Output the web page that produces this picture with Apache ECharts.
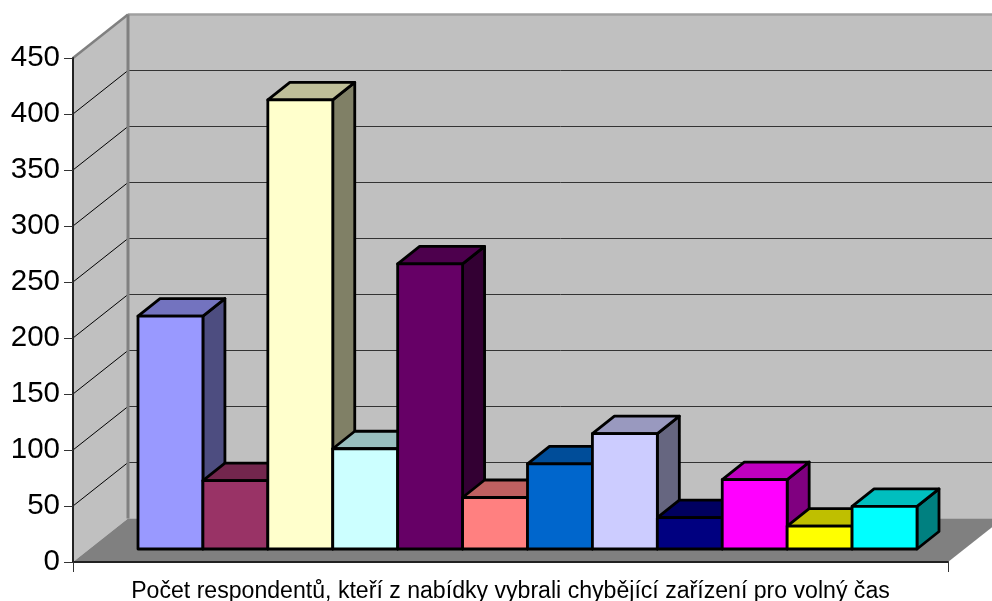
<!DOCTYPE html>
<html>
<head>
<meta charset="utf-8">
<style>html,body{margin:0;padding:0;background:#fff}#c{width:992px;height:601px}</style>
<script src="https://cdn.jsdelivr.net/npm/echarts@6/dist/echarts.min.js"></script>
</head>
<body>
<div id="c"></div>
<script>
const categories = ['Počet respondentů, kteří z nabídky vybrali chybějící zařízení pro volný čas'];
const values = [208, 61, 401, 89.5, 254.5, 46, 76, 103, 28, 62, 20.5, 38];
const colors = ['#9999FF','#993366','#FFFFCC','#CCFFFF','#660066','#FF8080','#0066CC','#CCCCFF','#000080','#FF00FF','#FFFF00','#00FFFF'];
const yTicks = [0,50,100,150,200,250,300,350,400,450];

const WALL_DX = 55, WALL_DY = -43.5;  // depth of the whole plot box
const BAR_OX = 17, BAR_OY = -13;      // where bars sit in depth
const BAR_DX = 22, BAR_DY = -17.5;    // bar depth
const CLUSTER = 779 / 875;            // share of the category band used by bars

function shade(hex, k) {
  const n = parseInt(hex.slice(1), 16);
  const c = [n >> 16 & 255, n >> 8 & 255, n & 255].map(v => Math.round(v * k));
  return 'rgb(' + c.join(',') + ')';
}
function poly(points, fill, stroke, lw) {
  return { type: 'polygon', shape: { points }, style: { fill, stroke: stroke || null, lineWidth: lw || 0, lineJoin: 'round' } };
}
function line(a, b, stroke, lw) {
  return { type: 'line', shape: { x1: a[0], y1: a[1], x2: b[0], y2: b[1] }, style: { stroke, lineWidth: lw } };
}

function renderWalls(params, api) {
  const o = api.coord([0, 0]);
  const band = api.size([1, 0])[0];
  const x0 = o[0] - band / 2, x1 = o[0] + band / 2, y0 = o[1];
  const yT = api.coord([0, yTicks[yTicks.length - 1]])[1];
  const bx0 = x0 + WALL_DX, bx1 = x1 + WALL_DX;
  const children = [
    poly([[bx0, yT + WALL_DY], [bx1, yT + WALL_DY], [bx1, y0 + WALL_DY], [bx0, y0 + WALL_DY]], '#C0C0C0'),
    poly([[x0, yT], [bx0, yT + WALL_DY], [bx0, y0 + WALL_DY], [x0, y0]], '#C0C0C0'),
    poly([[x0, y0], [bx0, y0 + WALL_DY], [bx1, y0 + WALL_DY], [x1, y0]], '#808080')
  ];
  yTicks.forEach(t => {
    if (t === 0 || t === yTicks[yTicks.length - 1]) return;
    const y = api.coord([0, t])[1];
    children.push(line([x0, y], [bx0, y + WALL_DY], '#000', 1));
    children.push(line([bx0, y + WALL_DY], [bx1, y + WALL_DY], '#333', 1));
  });
  children.push(line([x0, yT], [bx0, yT + WALL_DY], '#808080', 2.5));
  children.push(line([bx0, yT + WALL_DY], [bx1, yT + WALL_DY], '#A0A0A0', 2.5));
  children.push(line([bx0, yT + WALL_DY], [bx0, y0 + WALL_DY], '#808080', 3));
  return { type: 'group', children };
}

function renderBar(params, api) {
  const i = params.seriesIndex - 1;
  const o = api.coord([0, 0]);
  const w = api.size([1, 0])[0] * CLUSTER / values.length;
  const left = o[0] - w * values.length / 2 + i * w + BAR_OX;
  const right = left + w;
  const base = o[1] + BAR_OY;
  const top = api.coord([0, api.value(1)])[1] + BAR_OY;
  const c = colors[i];
  return {
    type: 'group',
    children: [
      poly([[right, top], [right + BAR_DX, top + BAR_DY], [right + BAR_DX, base + BAR_DY], [right, base]], shade(c, 0.5), '#000', 2.8),
      poly([[left, top], [left + BAR_DX, top + BAR_DY], [right + BAR_DX, top + BAR_DY], [right, top]], shade(c, 0.75), '#000', 2.8),
      poly([[left, top], [right, top], [right, base], [left, base]], c, '#000', 2.8)
    ]
  };
}

const series = [{
  type: 'custom', name: 'walls', silent: true, clip: false, z: 1,
  encode: { x: 0, y: 1 }, data: [[0, 0]], renderItem: renderWalls
}].concat(values.map((v, i) => ({
  type: 'custom', name: 'r' + (i + 1), silent: true, clip: false, z: 2 + i,
  encode: { x: 0, y: 1 }, data: [[0, v]], renderItem: renderBar
})));

const chart = echarts.init(document.getElementById('c'), null, { renderer: 'canvas' });
chart.setOption({
  animation: false,
  backgroundColor: '#fff',
  grid: { left: 73, right: 44, top: 58, bottom: 39, outerBoundsMode: 'none' },
  xAxis: {
    type: 'category', data: categories, z: 30,
    axisLine: { lineStyle: { color: '#222', width: 2 } },
    axisTick: { show: true, length: 10, lineStyle: { color: '#333', width: 1 } },
    axisLabel: { color: '#000', fontFamily: 'Liberation Sans', fontSize: 23.1, margin: 18, interval: 0 }
  },
  yAxis: {
    type: 'value', min: 0, max: 450, interval: 50, z: 30,
    axisLine: { show: true, lineStyle: { color: '#222', width: 2 } },
    axisTick: { show: true, length: 9, lineStyle: { color: '#333', width: 1 } },
    axisLabel: { color: '#000', fontFamily: 'Liberation Sans', fontSize: 29.5, margin: 13 },
    splitLine: { show: false }
  },
  series
});
</script>
</body>
</html>
